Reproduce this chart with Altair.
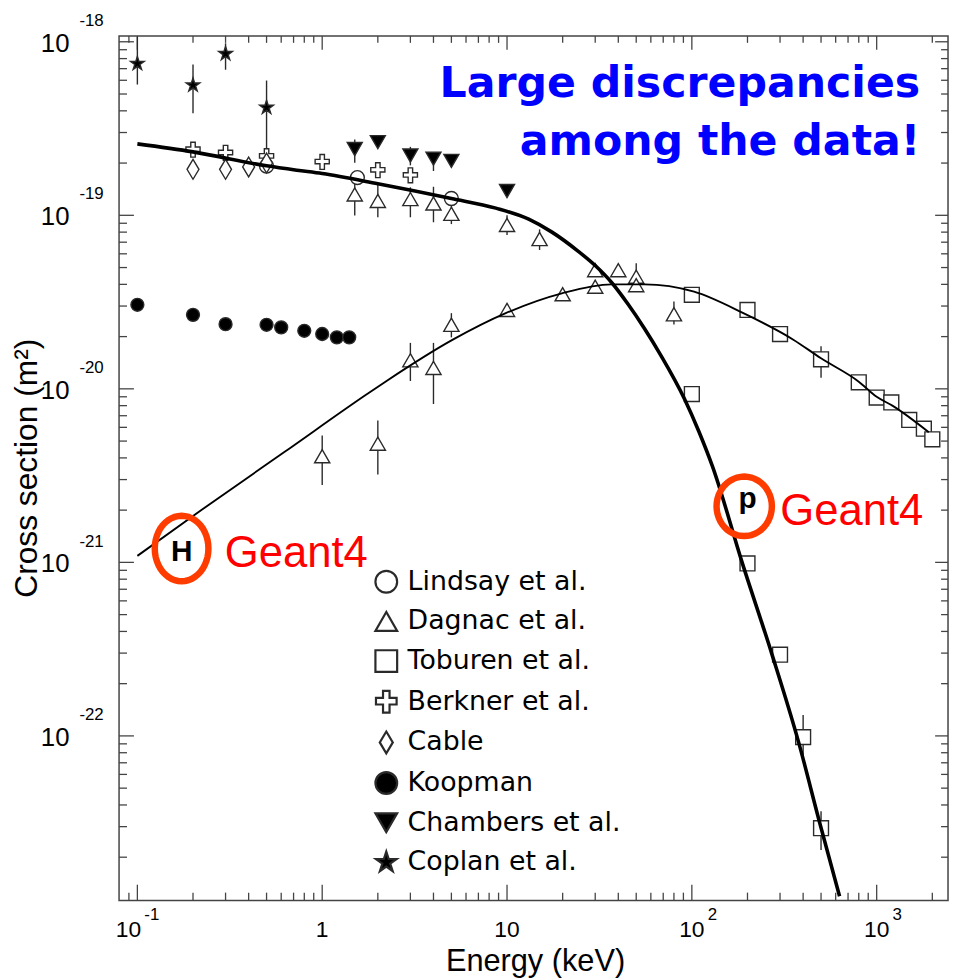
import math
import altair as alt
import pandas as pd

# ---------------- data (energy in keV, cross section in m^2) ----------
lindsay_E = [0.5, 1.55, 5.0]
lindsay_s = [1.92e-19, 1.65e-19, 1.25e-19]

dagnac_E = [1.5, 2, 3, 4, 5, 10, 15, 30, 40, 50, 30, 50, 20, 10, 5, 80, 3, 4, 1, 2]
dagnac_s = [1.32e-19, 1.21e-19, 1.24e-19, 1.17e-19, 1.02e-19, 8.8e-20, 7.3e-20, 4.83e-20, 4.83e-20,
            4.43e-20, 3.88e-20, 3.96e-20, 3.51e-20, 2.85e-20, 2.34e-20, 2.69e-20, 1.46e-20, 1.32e-20,
            4.09e-21, 4.83e-21]
dagnac_lo = [9.96e-20, 9.74e-20, 9.74e-20, 9.12e-20, 8.9e-20, 7.69e-20, 6.31e-20, 4.5e-20, 4.5e-20,
             4.1e-20, 3.6e-20, 3.7e-20, 3.25e-20, 2.65e-20, 1.98e-20, 2.35e-20, 1.11e-20, 8.18e-21,
             2.79e-21, 3.21e-21]
dagnac_hi = [1.71e-19, 1.51e-19, 1.45e-19, 1.46e-19, 1.15e-19, 1.0e-19, 8.3e-20, 5.2e-20, 5.2e-20,
             5.3e-20, 4.2e-20, 4.3e-20, 3.8e-20, 3.05e-20, 2.73e-20, 3.19e-20, 1.84e-20, 1.84e-20,
             5.38e-21, 6.56e-21]

toburen_E = [100, 200, 300, 500, 800, 1000, 1200, 1500, 1800, 2000, 100, 200, 300, 400, 500]
toburen_s = [3.48e-20, 2.85e-20, 2.07e-20, 1.48e-20, 1.09e-20, 8.91e-21, 8.35e-21, 6.62e-21, 5.89e-21,
             5.12e-21, 9.33e-21, 9.86e-22, 2.94e-22, 9.84e-23, 2.94e-23]
toburen_lo = [3.3e-20, 2.7e-20, 1.95e-20, 1.16e-20, 1.03e-20, 8.5e-21, 8.0e-21, 6.3e-21, 5.6e-21,
              4.85e-21, 8.9e-21, 9.3e-22, 2.75e-22, 7.69e-23, 2.2e-23]
toburen_hi = [3.65e-20, 3.0e-20, 2.2e-20, 1.76e-20, 1.15e-20, 9.3e-21, 8.7e-21, 6.9e-21, 6.2e-21,
              5.4e-21, 9.8e-21, 1.05e-21, 3.1e-22, 1.32e-22, 3.68e-23]

berkner_E = [0.2, 0.3, 0.5, 1.0, 2.0, 3.0]
berkner_s = [2.39e-19, 2.29e-19, 2.19e-19, 2.03e-19, 1.82e-19, 1.70e-19]

cable_E = [0.2, 0.3, 0.4, 0.5]
cable_s = [1.84e-19, 1.84e-19, 1.90e-19, 2.0e-19]

koopman_E = [0.1, 0.2, 0.3, 0.5, 0.6, 0.8, 1.0, 1.2, 1.4]
koopman_s = [3.05e-20, 2.67e-20, 2.36e-20, 2.34e-20, 2.26e-20, 2.16e-20, 2.07e-20, 1.98e-20, 1.98e-20]

chambers_E = [1.5, 2, 3, 4, 5, 10]
chambers_s = [2.41e-19, 2.64e-19, 2.21e-19, 2.12e-19, 2.06e-19, 1.38e-19]
chambers_lo = [2.01e-19, 2.5e-19, 1.94e-19, 1.8e-19, 1.95e-19, 1.3e-19]
chambers_hi = [2.73e-19, 2.75e-19, 2.48e-19, 2.29e-19, 2.15e-19, 1.45e-19]

coplan_E = [0.1, 0.2, 0.3, 0.5]
coplan_s = [7.48e-19, 5.62e-19, 8.53e-19, 4.18e-19]
coplan_lo = [5.67e-19, 3.88e-19, 6.9e-19, 1.83e-19]
coplan_hi = [1.07e-18, 7.4e-19, 9.8e-19, 5.98e-19]

# Geant4 curves
p_E = [0.1, 0.2, 0.5, 0.73, 1.0, 2.0, 5.0, 8.7, 13.1, 17.5, 24.3, 29.9, 36.8, 45.1, 55.5, 68.2,
       91, 109, 129, 187, 270, 377, 492, 630]
p_s = [2.58e-19, 2.32e-19, 1.93e-19, 1.82e-19, 1.74e-19, 1.52e-19, 1.25e-19, 1.1e-19, 9.5e-20,
       8.0e-20, 6.2e-20, 5.15e-20, 4.1e-20, 3.08e-20, 2.22e-20, 1.55e-20, 8.8e-21, 5.7e-21, 3.6e-21,
       1.0e-21, 3.0e-22, 9.3e-23, 3.15e-23, 1.19e-23]

h_E = [0.1, 0.223, 0.624, 1.75, 2.23, 5.09, 9.84, 19.8, 36.7, 55.5, 102.8, 190, 354, 500, 800,
       1000, 1216, 1914]
h_s = [1.09e-21, 2.01e-21, 4.32e-21, 9.33e-21, 1.11e-20, 1.92e-20, 2.73e-20, 3.55e-20, 4.0e-20,
       4.0e-20, 3.63e-20, 2.73e-20, 1.92e-20, 1.5e-20, 1.1e-20, 9.0e-21, 8.0e-21, 5.62e-21]

# axis tick labels
x_label_vals = [1, 10, 100, 1000]
x_label_base = ["1", "10", "10", "10"]
x_label_exp_vals = [100, 1000]
x_label_exp = ["2", "3"]
y_label_vals = [1e-22, 1e-21, 1e-20, 1e-19, 1e-18]
y_label_exp = ["-22", "-21", "-20", "-19", "-18"]

# annotations (anchors in data coordinates)
blue_E = [1720, 1720]
blue_s = [4.82e-19, 2.23e-19]
blue_t = ["Large discrepancies", "among the data!"]
g4_E = [0.2972, 301]
g4_s = [9.36e-22, 1.65e-21]
hp_E = [0.1737, 200.4]
hp_s = [1.148e-21, 2.32e-21]
hp_t = ["H", "p"]
ring_E = [0.1735, 192.0]
ring_s = [1.202e-21, 2.104e-21]

# ---------------- styling ----------------
W, H = 836, 872
xs = alt.Scale(type="log", domain=[0.0796, 2432], nice=False)
ys = alt.Scale(type="log", domain=[1.125e-23, 1.081e-18], nice=False)
FRAME = "#444444"
MK = "#2a2a2a"


def ellipse(rx, ry, n=48):
    pts = []
    for i in range(n):
        a = 2 * math.pi * i / n
        pts.append(f"{rx * math.cos(a):.3f},{ry * math.sin(a):.3f}")
    return "M" + "L".join(pts) + "Z"


CROSS = "M-0.3,-1H0.3V-0.35H0.95V0.25H0.3V1H-0.3V0.25H-0.95V-0.35H-0.3Z"
DIAMOND = "M0,-1L0.6,0L0,1L-0.6,0Z"
STAR = ("M0,-1L0.2245,-0.309L0.951,-0.309L0.363,0.118L0.588,0.809L0,0.382L-0.588,0.809"
        "L-0.363,0.118L-0.951,-0.309L-0.2245,-0.309Z")

order = ["Lindsay et al.", "Dagnac et al.", "Toburen et al.", "Berkner et al.", "Cable",
         "Koopman", "Chambers et al.", "Coplan et al."]
shapes = ["circle", "triangle-up", "square", CROSS, DIAMOND, "circle", "triangle-down", STAR]
fills = ["white", "white", "white", "white", "white", "black", "black", "black"]
strokes = [MK] * 8
size_of = {"Lindsay et al.": 196, "Dagnac et al.": 235, "Toburen et al.": 225,
           "Berkner et al.": 225, "Cable": 400, "Koopman": 169, "Chambers et al.": 230,
           "Coplan et al.": 210}

series = [
    ("Lindsay et al.", lindsay_E, lindsay_s),
    ("Dagnac et al.", dagnac_E, dagnac_s),
    ("Toburen et al.", toburen_E, toburen_s),
    ("Berkner et al.", berkner_E, berkner_s),
    ("Cable", cable_E, cable_s),
    ("Koopman", koopman_E, koopman_s),
    ("Chambers et al.", chambers_E, chambers_s),
    ("Coplan et al.", coplan_E, coplan_s),
]
pts = pd.concat([pd.DataFrame({"E": e, "s": s, "series": n}) for n, e, s in series],
                ignore_index=True)
pts["sz"] = pts["series"].map(size_of)

errs = pd.concat([
    pd.DataFrame({"E": dagnac_E, "lo": dagnac_lo, "hi": dagnac_hi}),
    pd.DataFrame({"E": toburen_E, "lo": toburen_lo, "hi": toburen_hi}),
    pd.DataFrame({"E": chambers_E, "lo": chambers_lo, "hi": chambers_hi}),
    pd.DataFrame({"E": coplan_E, "lo": coplan_lo, "hi": coplan_hi}),
], ignore_index=True)

X = lambda f: alt.X(f, scale=xs, axis=None)
Y = lambda f: alt.Y(f, scale=ys, axis=None)

layers = []

# ---- ticks (inward, on all four sides) ----
x_major = [0.1, 1, 10, 100, 1000]
x_minor = [0.09] + [k * 10 ** d for d in (-1, 0, 1, 2) for k in range(2, 10)] + [2000]
y_major = [1e-22, 1e-21, 1e-20, 1e-19, 1e-18]
y_minor = [k * 10.0 ** d for d in (-23, -22, -21, -20, -19) for k in range(2, 10)]


def xt(vals, a, b):
    return alt.Chart(pd.DataFrame({"v": vals})).mark_rule(color=FRAME, strokeWidth=1.3).encode(
        x=X("v:Q"), y=alt.value(a), y2=alt.value(b))


def yt(vals, a, b):
    return alt.Chart(pd.DataFrame({"v": vals})).mark_rule(color=FRAME, strokeWidth=1.3).encode(
        y=Y("v:Q"), x=alt.value(a), x2=alt.value(b))


layers += [xt(x_major, H, H - 16), xt(x_minor, H, H - 8), xt(x_major, 0, 14), xt(x_minor, 0, 7),
           yt(y_major, 0, 15), yt(y_minor, 0, 8), yt(y_major, W, W - 13), yt(y_minor, W, W - 7)]

# ---- tick labels ----
LF = "Liberation Sans"
layers.append(alt.Chart(pd.DataFrame({"v": x_label_vals, "t": x_label_base})).mark_text(
    font=LF, fontSize=23, align="center", baseline="middle", color="black").encode(
    x=X("v:Q"), y=alt.value(H + 30), text="t:N"))
layers.append(alt.Chart(pd.DataFrame({"v": [0.1], "t": ["10"]})).mark_text(
    font=LF, fontSize=23, align="center", baseline="middle", dx=-9, color="black").encode(
    x=X("v:Q"), y=alt.value(H + 30), text="t:N"))
layers.append(alt.Chart(pd.DataFrame({"v": x_label_exp_vals, "t": x_label_exp})).mark_text(
    font=LF, fontSize=17, align="left", baseline="middle", dx=16, color="black").encode(
    x=X("v:Q"), y=alt.value(H + 15), text="t:N"))
layers.append(alt.Chart(pd.DataFrame({"v": [0.1], "t": ["-1"]})).mark_text(
    font=LF, fontSize=17, align="left", baseline="middle", dx=7, color="black").encode(
    x=X("v:Q"), y=alt.value(H + 15), text="t:N"))
layers.append(alt.Chart(pd.DataFrame({"v": y_label_vals, "t": ["10"] * 5})).mark_text(
    font=LF, fontSize=26, align="right", baseline="middle", dy=2, color="black").encode(
    y=Y("v:Q"), x=alt.value(-50), text="t:N"))
layers.append(alt.Chart(pd.DataFrame({"v": y_label_vals, "t": y_label_exp})).mark_text(
    font=LF, fontSize=17, align="left", baseline="middle", dy=-21, color="black").encode(
    y=Y("v:Q"), x=alt.value(-40), text="t:N"))

# ---- axis titles ----
layers.append(alt.Chart(pd.DataFrame({"t": ["Energy (keV)"]})).mark_text(
    font=LF, fontSize=31, align="center", baseline="alphabetic", color="black").encode(
    x=alt.value(420), y=alt.value(943), text="t:N"))
layers.append(alt.Chart(pd.DataFrame({"t": ["Cross section (m²)"]})).mark_text(
    font=LF, fontSize=32, align="center", baseline="middle", angle=270, color="black").encode(
    x=alt.value(-93), y=alt.value(436), text="t:N"))

# ---- error bars ----
layers.append(alt.Chart(errs).mark_rule(color=MK, strokeWidth=1.4).encode(
    x=X("E:Q"), y=Y("lo:Q"), y2="hi:Q"))

# ---- data points with legend ----
leg = alt.Legend(title=None, orient="none", legendX=256, legendY=537, direction="vertical",
                 symbolSize=480, symbolStrokeWidth=2.2, symbolStrokeColor="black",
                 labelFont="DejaVu Sans", labelFontSize=27, labelColor="black", labelOffset=8,
                 rowPadding=10, padding=0, labelLimit=400)
layers.append(alt.Chart(pts).mark_point(opacity=1, strokeWidth=1.4).encode(
    x=X("E:Q"), y=Y("s:Q"),
    shape=alt.Shape("series:N", scale=alt.Scale(domain=order, range=shapes), legend=leg),
    fill=alt.Fill("series:N", scale=alt.Scale(domain=order, range=fills), legend=leg),
    stroke=alt.Stroke("series:N", scale=alt.Scale(domain=order, range=strokes), legend=leg),
    size=alt.Size("sz:Q", scale=None, legend=None)))

# ---- Geant4 curves ----
layers.append(alt.Chart(pd.DataFrame({"E": h_E, "s": h_s})).mark_line(
    color="black", strokeWidth=1.9, interpolate="monotone", clip=True).encode(x=X("E:Q"), y=Y("s:Q")))
layers.append(alt.Chart(pd.DataFrame({"E": p_E, "s": p_s})).mark_line(
    color="black", strokeWidth=3.6, interpolate="monotone", clip=True).encode(x=X("E:Q"), y=Y("s:Q")))

# ---- annotations ----
layers.append(alt.Chart(pd.DataFrame({"E": ring_E[:1], "s": ring_s[:1]})).mark_point(
    shape=ellipse(0.82, 1.0), size=66 * 66, filled=False, opacity=1, stroke="#FF3C00",
    strokeWidth=6.5).encode(x=X("E:Q"), y=Y("s:Q")))
layers.append(alt.Chart(pd.DataFrame({"E": ring_E[1:], "s": ring_s[1:]})).mark_point(
    shape=ellipse(0.93, 1.0), size=60 * 60, filled=False, opacity=1, stroke="#FF3C00",
    strokeWidth=6.5).encode(x=X("E:Q"), y=Y("s:Q")))
layers.append(alt.Chart(pd.DataFrame({"E": hp_E, "s": hp_s, "t": hp_t})).mark_text(
    font=LF, fontWeight="bold", fontSize=30, align="center", baseline="middle", color="black").encode(
    x=X("E:Q"), y=Y("s:Q"), text="t:N"))
layers.append(alt.Chart(pd.DataFrame({"E": g4_E, "s": g4_s, "t": ["Geant4", "Geant4"]})).mark_text(
    font=LF, fontSize=44, align="left", baseline="alphabetic",
    color="#FF0000").encode(x=X("E:Q"), y=Y("s:Q"), text="t:N"))
layers.append(alt.Chart(pd.DataFrame({"E": blue_E, "s": blue_s, "t": blue_t})).mark_text(
    font="DejaVu Sans", fontWeight="bold", fontSize=43, align="right", baseline="alphabetic",
    color="#0000FF").encode(x=X("E:Q"), y=Y("s:Q"), text="t:N"))

chart = alt.layer(*layers).properties(
    width=W, height=H,
    autosize=alt.AutoSizeParams(type="none"),
    padding={"left": 112, "top": 24, "right": 2, "bottom": 80},
    background="white",
).configure_view(stroke=FRAME, strokeWidth=1.5)

chart.save("out.html", embed_options={"renderer": "svg", "actions": False})
